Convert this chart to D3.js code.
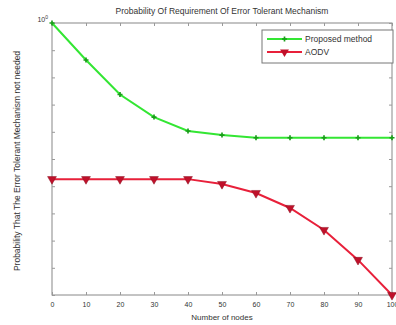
<!DOCTYPE html>
<html>
<head>
<meta charset="utf-8">
<script src="https://cdn.jsdelivr.net/npm/d3@7"></script>
<style>
  body { margin: 0; background: #fff; }
  text { font-family: "Liberation Sans", Arial, sans-serif; fill: #333; }
</style>
</head>
<body>
<svg id="chart" width="396" height="325"></svg>
<script>
// data
const nodes = [0, 10, 20, 30, 40, 50, 60, 70, 80, 90, 100];
const proposed = [1.0, 0.864, 0.737, 0.654, 0.603, 0.588, 0.578, 0.578, 0.578, 0.578, 0.578];
const aodv = [0.426, 0.426, 0.426, 0.426, 0.426, 0.408, 0.375, 0.320, 0.239, 0.129, 0.0];
const xTicks = [0, 10, 20, 30, 40, 50, 60, 70, 80, 90, 100];
const yTicks = [0, 0.1, 0.2, 0.3, 0.4, 0.5, 0.6, 0.7, 0.8, 0.9, 1.0];

const svg = d3.select('#chart');
const margin = { left: 52, right: 4, top: 23, bottom: 30 };
const width = +svg.attr('width'), height = +svg.attr('height');

const x = d3.scaleLinear().domain([0, 100]).range([margin.left, width - margin.right]);
const y = d3.scaleLinear().domain([0, 1]).range([height - margin.bottom, margin.top]);

const g = svg.append('g');

// box
g.append('rect')
    .attr('x', x(0)).attr('y', y(1))
    .attr('width', x(100) - x(0)).attr('height', y(0) - y(1))
    .attr('fill', 'none').attr('stroke', '#888').attr('stroke-width', 1);

// bottom / top ticks (inward)
const xb = g.append('g').attr('transform', 'translate(0,' + y(0) + ')')
    .call(d3.axisBottom(x).tickValues(xTicks).tickSizeInner(-3).tickSizeOuter(0).tickPadding(7));
const xt = g.append('g').attr('transform', 'translate(0,' + y(1) + ')')
    .call(d3.axisTop(x).tickValues(xTicks).tickSizeInner(-3).tickSizeOuter(0).tickFormat(''));
const yl = g.append('g').attr('transform', 'translate(' + x(0) + ',0)')
    .call(d3.axisLeft(y).tickValues(yTicks).tickSizeInner(-3).tickSizeOuter(0).tickFormat(''));
const yr = g.append('g').attr('transform', 'translate(' + x(100) + ',0)')
    .call(d3.axisRight(y).tickValues(yTicks).tickSizeInner(-3).tickSizeOuter(0).tickFormat(''));

[xb, xt, yl, yr].forEach(a => {
    a.select('.domain').remove();
    a.selectAll('line').attr('stroke', '#999');
    a.selectAll('text').style('font-size', '7px').attr('fill', '#444');
});

// 10^0 label at top
const t0 = g.append('text')
    .attr('x', x(0) - 4).attr('y', y(1) - 1)
    .attr('text-anchor', 'end')
    .style('font-size', '7px');
t0.append('tspan').text('10');
t0.append('tspan').attr('dy', -3).style('font-size', '5px').text('0');

// lines
const line = d3.line().x((d, i) => x(nodes[i])).y(d => y(d));

g.append('path').datum(proposed)
    .attr('d', line).attr('fill', 'none')
    .attr('stroke', '#33e633').attr('stroke-width', 2);
g.append('path').datum(aodv)
    .attr('d', line).attr('fill', 'none')
    .attr('stroke', '#e8203a').attr('stroke-width', 2);

// markers
const plus = d3.symbol().type(d3.symbolCross).size(14);
const tri = d3.symbol().type(d3.symbolTriangle).size(34);

g.selectAll('.pm').data(proposed).enter().append('path')
    .attr('class', 'pm')
    .attr('d', plus)
    .attr('transform', (d, i) => 'translate(' + x(nodes[i]) + ',' + y(d) + ')')
    .attr('fill', '#1a9e1a');

g.selectAll('.am').data(aodv).enter().append('path')
    .attr('class', 'am')
    .attr('d', tri)
    .attr('transform', (d, i) => 'translate(' + x(nodes[i]) + ',' + y(d) + ') rotate(180)')
    .attr('fill', '#c0102a').attr('stroke', '#8a1020').attr('stroke-width', 0.5);

// legend
const lg = g.append('g').attr('transform', 'translate(262,30)');
lg.append('rect').attr('width', 131).attr('height', 33)
    .attr('fill', '#fff').attr('stroke', '#777').attr('stroke-width', 1);
lg.append('line').attr('x1', 5).attr('x2', 40).attr('y1', 9).attr('y2', 9)
    .attr('stroke', '#33e633').attr('stroke-width', 2);
lg.append('path').attr('d', plus).attr('transform', 'translate(22.5,9)').attr('fill', '#1a9e1a');
lg.append('text').attr('x', 43).attr('y', 12).style('font-size', '8.5px').text('Proposed method');
lg.append('line').attr('x1', 5).attr('x2', 40).attr('y1', 22).attr('y2', 22)
    .attr('stroke', '#e8203a').attr('stroke-width', 2);
lg.append('path').attr('d', tri).attr('transform', 'translate(22.5,22) rotate(180)').attr('fill', '#c0102a');
lg.append('text').attr('x', 43).attr('y', 25).style('font-size', '8.5px').text('AODV');

// title and axis labels
g.append('text')
    .attr('x', (x(0) + x(100)) / 2).attr('y', 14)
    .attr('text-anchor', 'middle').style('font-size', '8.5px')
    .text('Probability Of Requirement Of Error Tolerant Mechanism');

g.append('text')
    .attr('x', (x(0) + x(100)) / 2).attr('y', 320)
    .attr('text-anchor', 'middle').style('font-size', '8px')
    .text('Number of nodes');

g.append('text')
    .attr('transform', 'translate(20,' + ((y(0) + y(1)) / 2 + 2) + ') rotate(-90)')
    .attr('text-anchor', 'middle').style('font-size', '8.5px')
    .text('Probability That The Error Tolerant Mechanism not needed');
</script>
</body>
</html>
